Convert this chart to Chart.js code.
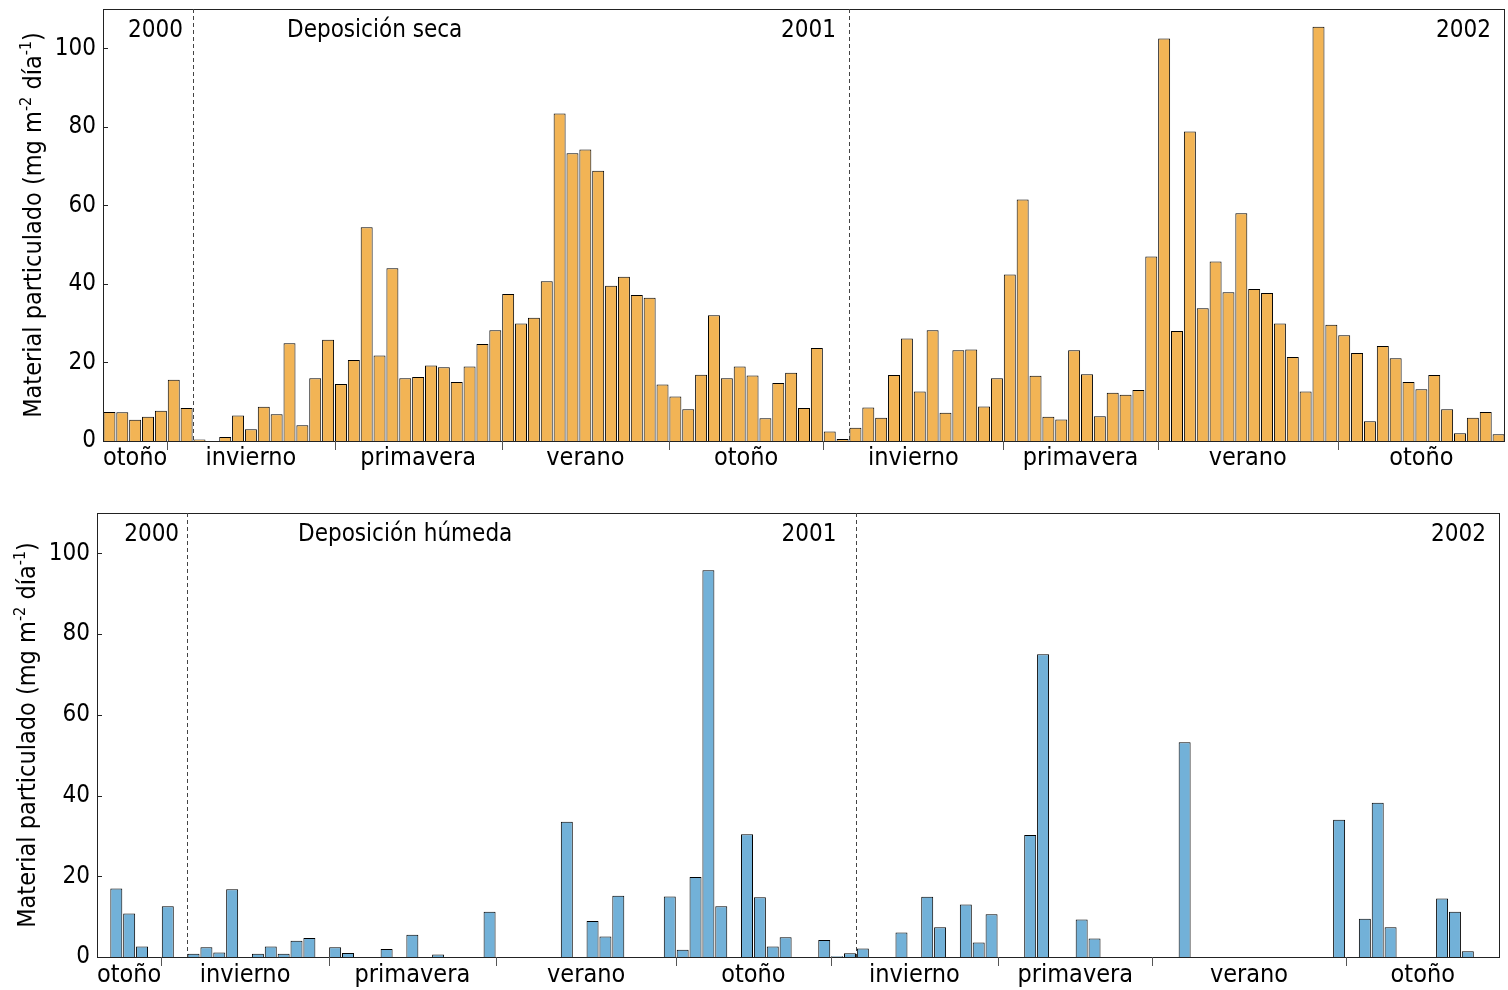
<!DOCTYPE html>
<html>
<head>
<meta charset="utf-8">
<script src="https://cdn.jsdelivr.net/npm/chart.js@4.4.1/dist/chart.umd.min.js"></script>
<style>
  html, body { margin: 0; padding: 0; background: #fff; }
  .panel { position: absolute; left: 0; width: 1508px; }
  #top { top: 0; height: 490px; }
  #bottom { top: 490px; height: 500px; }
</style>
</head>
<body>
<div class="panel" id="top"><canvas id="dryChart"></canvas></div>
<div class="panel" id="bottom"><canvas id="wetChart"></canvas></div>
<script>
const FONT = '"DejaVu Sans Condensed", "DejaVu Sans", sans-serif';

// data (weekly samples, mg m-2 dia-1)
const dryValues = [
  7.4, 7.3, 5.4, 6.2, 7.7, 15.6, 8.4, 0.4, 0, 1.0,
  6.5, 3.0, 8.7, 6.8, 24.9, 4.0, 16.0, 25.8, 14.5, 20.6,
  54.4, 21.8, 44.0, 16.0, 16.3, 19.2, 18.8, 15.0, 19.0, 24.7,
  28.2, 37.4, 29.9, 31.4, 40.7, 83.4, 73.3, 74.2, 68.8, 39.5,
  41.8, 37.2, 36.5, 14.4, 11.3, 8.1, 16.9, 32.0, 16.0, 19.0,
  16.7, 5.8, 14.8, 17.4, 8.4, 23.7, 2.4, 0.5, 3.4, 8.5,
  5.9, 16.8, 26.1, 12.6, 28.2, 7.2, 23.1, 23.3, 8.8, 16.0,
  42.4, 61.5, 16.6, 6.2, 5.5, 23.1, 17.0, 6.3, 12.3, 11.8,
  13.0, 47.0, 102.5, 28.0, 78.8, 33.8, 45.7, 37.9, 58.0, 38.7,
  37.7, 29.9, 21.4, 12.6, 105.5, 29.6, 26.9, 22.4, 5.0, 24.2,
  21.1, 15.0, 13.2, 16.8, 8.1, 2.0, 5.9, 7.4, 1.7
];
const wetValues = [
  null, 17.0, 10.8, 2.6, null, 12.6, null, 0.8, 2.4, 1.1,
  16.8, null, 0.8, 2.6, 0.8, 4.0, 4.7, null, 2.4, 1.0,
  null, null, 2.0, null, 5.5, null, 0.6, null, null, null,
  11.2, null, null, null, null, null, 33.5, null, 8.9, 5.1,
  15.2, null, null, null, 15.0, 1.8, 19.8, 95.8, 12.6, null,
  30.4, 14.8, 2.6, 4.9, null, null, 4.2, 0.2, 0.9, 2.1,
  null, null, 6.1, null, 14.9, 7.4, null, 13.0, 3.6, 10.6,
  null, null, 30.2, 75.0, null, null, 9.3, 4.6, null, null,
  null, null, null, null, 53.2, null, null, null, null, null,
  null, null, null, null, null, null, 34.0, null, 9.5, 38.2,
  7.4, null, null, null, 14.5, 11.2, 1.4, null, null
];
const weeks = dryValues.map((_, i) => String(i + 1));
const yTicks = [0, 20, 40, 60, 80, 100];
const seasonNames = ["otoño", "invierno", "primavera", "verano", "otoño", "invierno", "primavera", "verano", "otoño"];
const dryBreaks = [5, 18, 31, 44, 56, 70, 82, 96];
const wetBreaks = [5, 18, 31, 45, 57, 70, 82, 97];
const dryYearBreaks = [7, 58];
const wetYearBreaks = [7, 59];
const yearLabels = ["2000", "2001", "2002"];

// draws frame, inward ticks, seasons, year lines and texts
const decor = {
  id: "decor",
  afterDraw(chart, args, o) {
    const { ctx, chartArea: a } = chart;
    const x = chart.scales.x, y = chart.scales.y;
    const n = weeks.length;
    const edge = (b) => x.getPixelForValue(b - 0.5);
    ctx.save();

    // frame
    ctx.strokeStyle = "#222";
    ctx.lineWidth = 1;
    ctx.strokeRect(Math.round(a.left) + 0.5, Math.round(a.top) + 0.5,
      Math.round(a.right - a.left) - 1, Math.round(a.bottom - a.top));

    // inward y ticks
    yTicks.forEach((v) => {
      const py = Math.round(y.getPixelForValue(v)) + 0.5;
      ctx.beginPath();
      ctx.moveTo(a.left, py);
      ctx.lineTo(a.left + 5, py);
      ctx.stroke();
    });

    // season ticks and labels
    ctx.strokeStyle = "#555";
    o.breaks.forEach((b) => {
      const px = Math.round(edge(b)) + 0.5;
      ctx.beginPath();
      ctx.moveTo(px, a.bottom);
      ctx.lineTo(px, a.bottom + 9);
      ctx.stroke();
    });
    const bounds = [0, ...o.breaks, n];
    ctx.fillStyle = "#000";
    ctx.font = `25px ${FONT}`;
    ctx.textAlign = "center";
    ctx.textBaseline = "alphabetic";
    seasonNames.forEach((s, i) => {
      const mid = (bounds[i] + bounds[i + 1]) / 2;
      ctx.fillText(s, edge(mid), a.bottom + o.seasonDy);
    });

    // year separators
    ctx.strokeStyle = "#444";
    ctx.setLineDash([4, 3]);
    o.yearBreaks.forEach((b) => {
      const px = Math.round(edge(b)) + 0.5;
      ctx.beginPath();
      ctx.moveTo(px, a.top);
      ctx.lineTo(px, a.bottom);
      ctx.stroke();
    });
    ctx.setLineDash([]);

    // year labels and panel title
    ctx.font = `24px ${FONT}`;
    ctx.textAlign = "right";
    const yearX = [...o.yearBreaks.map((b, i) => edge(b) - o.yearGap[i]), a.right - 14];
    yearLabels.forEach((t, i) => ctx.fillText(t, yearX[i], a.top + 28));
    ctx.textAlign = "left";
    ctx.fillText(o.title, a.left + o.titleDx, a.top + 28);

    // y axis title with superscripts
    const parts = [
      ["Material particulado (mg m", false],
      ["-2", true],
      [" día", false],
      ["-1", true],
      [")", false],
    ];
    const big = `25px ${FONT}`, small = `16px ${FONT}`;
    let total = 0;
    parts.forEach(([t, sup]) => { ctx.font = sup ? small : big; total += ctx.measureText(t).width; });
    ctx.translate(o.axisX, o.axisY);
    ctx.rotate(-Math.PI / 2);
    let cx = -total / 2;
    parts.forEach(([t, sup]) => {
      ctx.font = sup ? small : big;
      ctx.fillText(t, cx, sup ? -10 : 0);
      cx += ctx.measureText(t).width;
    });
    ctx.restore();
  },
};

function createPanel(id, values, color, opts) {
  return new Chart(document.getElementById(id), {
    type: "bar",
    data: {
      labels: weeks,
      datasets: [
        {
          data: values,
          backgroundColor: color,
          borderColor: "#000",
          borderWidth: 1,
          barPercentage: 0.93,
          categoryPercentage: 1.0,
        },
      ],
    },
    options: {
      responsive: true,
      maintainAspectRatio: false,
      animation: false,
      layout: { padding: { top: opts.top, right: opts.right, left: 0, bottom: 0 } },
      plugins: {
        legend: { display: false },
        tooltip: { enabled: false },
        decor: opts.decor,
      },
      scales: {
        x: {
          offset: true,
          grid: { display: false, drawTicks: false },
          border: { display: false },
          ticks: { display: false },
          afterFit: (s) => { s.height = opts.xHeight; },
        },
        y: {
          min: 0,
          max: 110,
          afterBuildTicks: (s) => { s.ticks = yTicks.map((v) => ({ value: v })); },
          grid: { display: false, drawTicks: false },
          border: { display: false },
          ticks: { color: "#000", font: { family: FONT, size: 24 }, padding: 7 },
          afterFit: (s) => {
            s.width = opts.yWidth;
            s.paddingTop = 0;
            s.paddingBottom = 0;
          },
        },
      },
    },
    plugins: [decor],
  });
}

// Dry deposition
createPanel("dryChart", dryValues, "#F2B455", {
  top: 9, right: 3, xHeight: 49, yWidth: 103,
  decor: {
    breaks: dryBreaks, yearBreaks: dryYearBreaks, yearGap: [10, 13], title: "Deposición seca",
    titleDx: 184, seasonDy: 24, axisX: 41, axisY: 225,
  },
});

// Wet deposition
createPanel("wetChart", wetValues, "#72B1D8", {
  top: 23, right: 8, xHeight: 33, yWidth: 97,
  decor: {
    breaks: wetBreaks, yearBreaks: wetYearBreaks, yearGap: [8, 20], title: "Deposición húmeda",
    titleDx: 201, seasonDy: 25, axisX: 35, axisY: 245,
  },
});
</script>
</body>
</html>
